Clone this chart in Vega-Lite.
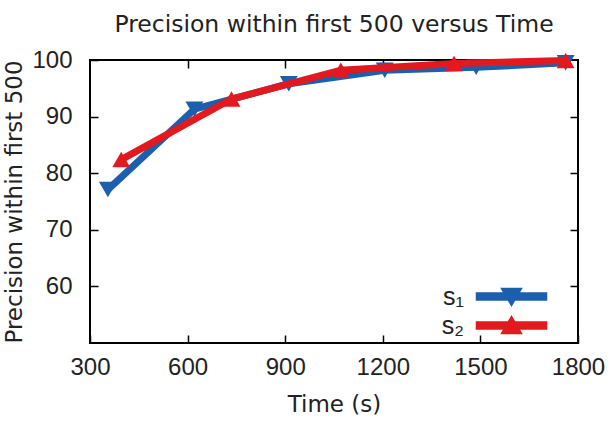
{
  "$schema": "https://vega.github.io/schema/vega-lite/v6.json",
  "width": 488,
  "height": 283,
  "autosize": {"type": "none"},
  "padding": {"left": 90, "top": 60, "right": 33, "bottom": 83},
  "background": "white",
  "config": {
    "view": {"stroke": "#000", "strokeWidth": 2},
    "axis": {"grid": false, "domain": false, "tickColor": "#000", "tickWidth": 1.5, "labelColor": "#222", "labelFont": "Liberation Sans", "labelFontSize": 24, "titleFont": "DejaVu Sans", "titleFontSize": 23, "titleFontWeight": "normal", "titleColor": "#222"}
  },
  "title": {"text": "Precision within first 500 versus Time", "font": "DejaVu Sans", "fontSize": 23.5, "fontWeight": "normal", "color": "#222", "anchor": "middle", "offset": 10},
  "data": {"values": [
    {"series": "s₁", "time": 355, "precision": 77.1},
    {"series": "s₁", "time": 621, "precision": 91.3},
    {"series": "s₁", "time": 911, "precision": 95.8},
    {"series": "s₁", "time": 1206, "precision": 98.2},
    {"series": "s₁", "time": 1487, "precision": 98.7},
    {"series": "s₁", "time": 1762, "precision": 99.5},
    {"series": "s₂", "time": 396, "precision": 82.4},
    {"series": "s₂", "time": 735, "precision": 93.1},
    {"series": "s₂", "time": 1071, "precision": 98.2},
    {"series": "s₂", "time": 1419, "precision": 99.4},
    {"series": "s₂", "time": 1762, "precision": 99.9}
  ]},
  "layer": [
    {
      "transform": [{"filter": "datum.series == 's₁'"}],
      "mark": {"type": "line", "strokeWidth": 7, "color": "#1b5fae"},
      "encoding": {
        "x": {"field": "time", "type": "quantitative", "scale": {"domain": [300, 1800], "nice": false, "zero": false},
              "axis": {"orient": "bottom", "values": [300, 600, 900, 1200, 1500, 1800], "format": "d", "tickSize": -8, "labelPadding": 20, "labelFont": "Liberation Sans", "labelFontSize": 24, "title": "Time (s)", "titlePadding": 14, "labelFlush": false}},
        "y": {"field": "precision", "type": "quantitative", "scale": {"domain": [50, 100], "nice": false, "zero": false},
              "axis": {"orient": "left", "values": [60, 70, 80, 90, 100], "format": "d", "tickSize": -8, "labelPadding": 26, "labelFont": "Liberation Sans", "labelFontSize": 24, "title": "Precision within first 500", "titleX": -76, "titleY": 141.5, "titleBaseline": "middle", "titleAlign": "center", "labelFlush": false}},
        "color": {"field": "series", "type": "nominal", "scale": {"domain": ["s₁", "s₂"], "range": ["#1b5fae", "#e2191f"]},
          "legend": {"orient": "none", "legendX": 409, "legendY": 224, "title": null, "padding": 0, "symbolSize": 400, "labelAlign": "right", "labelOffset": -60, "labelFont": "Liberation Sans", "labelFontSize": 25, "labelColor": "#222", "rowPadding": 3,
            "encode": {"symbols": {"update": {
              "shape": {"signal": "datum.value == 's₁' ? 'M-3.5,-0.35H3.5V0.35H-3.5Z M-1,-0.8H1L0,0.9Z' : 'M-3.5,-0.35H3.5V0.35H-3.5Z M1,0.8H-1L0,-0.9Z'"},
              "fill": {"signal": "datum.value == 's₁' ? '#1b5fae' : '#e2191f'"},
              "stroke": {"value": "transparent"},
              "opacity": {"value": 1}
            }}}}}
      }
    },
    {
      "transform": [{"filter": "datum.series == 's₁'"}],
      "mark": {"type": "point", "shape": "triangle-down", "filled": true, "size": 320, "opacity": 1, "color": "#1b5fae"},
      "encoding": {
        "x": {"field": "time", "type": "quantitative", "axis": null},
        "y": {"field": "precision", "type": "quantitative", "axis": null}
      }
    },
    {
      "transform": [{"filter": "datum.series == 's₂'"}],
      "mark": {"type": "line", "strokeWidth": 7},
      "encoding": {
        "x": {"field": "time", "type": "quantitative", "axis": null},
        "y": {"field": "precision", "type": "quantitative", "axis": null},
        "color": {"field": "series", "type": "nominal"}
      }
    },
    {
      "transform": [{"filter": "datum.series == 's₂'"}],
      "mark": {"type": "point", "shape": "triangle-up", "filled": true, "size": 320, "opacity": 1, "color": "#e2191f"},
      "encoding": {
        "x": {"field": "time", "type": "quantitative",
              "axis": {"orient": "top", "values": [600, 900, 1200, 1500], "tickSize": -8, "labels": false, "title": null}},
        "y": {"field": "precision", "type": "quantitative",
              "axis": {"orient": "right", "values": [60, 70, 80, 90], "tickSize": -8, "labels": false, "title": null}}
      }
    }
  ],
  "resolve": {"axis": {"x": "independent", "y": "independent"}}
}
